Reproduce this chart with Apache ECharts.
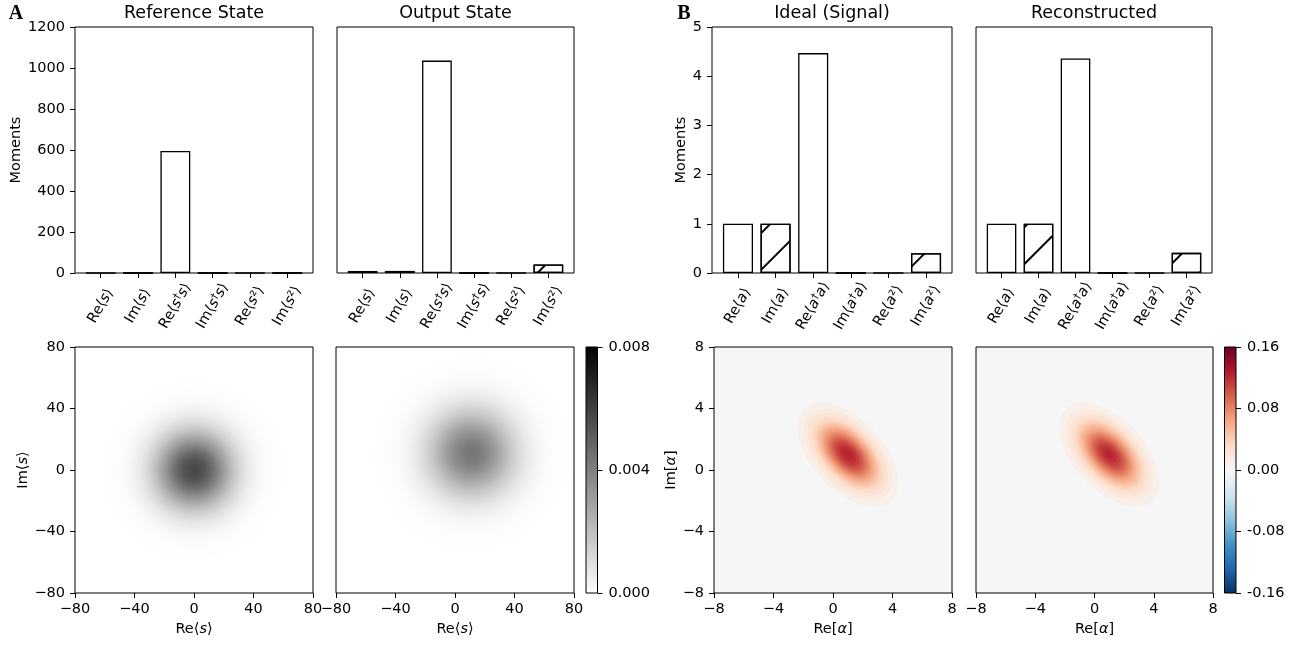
<!DOCTYPE html>
<html><head><meta charset="utf-8">
<script src="https://cdn.jsdelivr.net/npm/echarts@6/dist/echarts.min.js"></script>
<style>html,body{margin:0;padding:0;background:#fff}#c{width:1305px;height:648px}</style>
</head><body><div id="c"></div>
<script>
// ---------------- DATA ----------------
const catsA = ['Re⟨s⟩','Im⟨s⟩','Re⟨s†s⟩','Im⟨s†s⟩','Re⟨s²⟩','Im⟨s²⟩'];
const catsB = ['Re⟨a⟩','Im⟨a⟩','Re⟨a†a⟩','Im⟨a†a⟩','Re⟨a²⟩','Im⟨a²⟩'];
const referenceMoments = [0, 0, 595, 0, 0, 0];
const outputMoments    = [10, 10, 1036, 0, 0, 42];
const idealMoments     = [1.0, 1.0, 4.47, 0, 0, 0.40];
const reconMoments     = [1.0, 1.0, 4.36, 0, 0, 0.41];
const momentTicksA = [0, 200, 400, 600, 800, 1000, 1200];
const momentTicksB = [0, 1, 2, 3, 4, 5];
const phaseTicksA = [-80, -40, 0, 40, 80];
const phaseTicksB = [-8, -4, 0, 4, 8];
const cbarTicksA = [0, 0.004, 0.008];
const cbarTicksB = [-0.16, -0.08, 0, 0.08, 0.16];

// distribution contours: level value and semi-axes (data units)
const refCenter = [0, 0];
const refPeak = 0.0058;
const refLevels = [0.00001,0.00005,0.0001,0.0002,0.0004,0.0007,0.001,0.0014,0.0018,0.0022,0.0026,0.003,0.0034,0.0038,0.0042,0.0046,0.005,0.0054];
const refRadiusX = [62.4,54.0,49.9,45.4,40.5,36.0,32.8,29.5,26.8,24.4,22.2,20.1,18.1,16.1,14.1,11.9,9.5,6.6];
const refRadiusY = [62.4,54.0,49.9,45.4,40.5,36.0,32.8,29.5,26.8,24.4,22.2,20.1,18.1,16.1,14.1,11.9,9.5,6.6];

const outCenter = [11, 11];
const outPeak = 0.0043;
const outLevels = [0.00001,0.00005,0.0001,0.0002,0.0004,0.0007,0.001,0.0014,0.0018,0.0022,0.0026,0.003,0.0034,0.0038,0.0042];
const outRadiusX = [67.9,58.2,53.5,48.3,42.5,37.2,33.3,29.2,25.7,22.6,19.6,16.6,13.4,9.7,4.2];
const outRadiusY = [67.9,58.2,53.5,48.3,42.5,37.2,33.3,29.2,25.7,22.6,19.6,16.6,13.4,9.7,4.2];

const idealCenter = [1, 1];
const idealAngle = -45;
const idealPeak = 0.125;
const idealLevels = [0.0064,0.0128,0.0192,0.0256,0.032,0.0384,0.0448,0.0512,0.0576,0.064,0.0704,0.0768,0.0832,0.0896,0.096,0.1024,0.1088,0.1152,0.1216];
const idealMajor = [4.19,3.67,3.33,3.06,2.84,2.64,2.46,2.30,2.14,1.99,1.84,1.70,1.55,1.40,1.25,1.09,0.91,0.69,0.40];
const idealMinor = [2.34,2.05,1.86,1.71,1.58,1.47,1.38,1.28,1.20,1.11,1.03,0.95,0.87,0.78,0.70,0.61,0.51,0.39,0.23];

const reconCenter = [1, 1];
const reconAngle = -45;
const reconPeak = 0.123;
const reconLevels = [0.0064,0.0128,0.0192,0.0256,0.032,0.0384,0.0448,0.0512,0.0576,0.064,0.0704,0.0768,0.0832,0.0896,0.096,0.1024,0.1088,0.1152,0.1216];
const reconMajor = [4.19,3.66,3.32,3.05,2.83,2.63,2.45,2.28,2.12,1.97,1.82,1.67,1.52,1.37,1.21,1.04,0.86,0.62,0.30];
const reconMinor = [2.34,2.04,1.85,1.70,1.58,1.47,1.37,1.27,1.18,1.10,1.02,0.93,0.85,0.76,0.68,0.58,0.48,0.35,0.17];

// ---------------- STYLE / LAYOUT ----------------
const FONT = 'DejaVu Sans';
const FS = 14.5;
const greys = ['#ffffff', '#000000'];
const rdbu = ['#053061','#2166ac','#4393c3','#92c5de','#d1e5f0','#f7f7f7','#fddbc7','#f4a582','#d6604d','#b2182b','#67001f'];
const BAR_TOP = 27, BAR_H = 246, HEAT_TOP = 347, HEAT_H = 246;
const tickLine = {color: '#000', width: 1};
const richI = {
  i: {fontStyle: 'italic', fontSize: FS, fontFamily: FONT, color: '#000'},
  d: {fontSize: 10, fontFamily: FONT, color: '#000', verticalAlign: 'top', padding: [0, 0, 6, 0]}
};

const barLayout = [{l: 75, w: 238}, {l: 337, w: 237}, {l: 712, w: 240}, {l: 976, w: 236}];
const heatLayout = [{l: 75, w: 238}, {l: 336, w: 238}, {l: 714, w: 238}, {l: 976, w: 237}];
const cbLayout = [{l: 586, w: 11.5}, {l: 1224.5, w: 11.5}];

const grids = [], xAxes = [], yAxes = [], series = [];

function italicize(lab) {
  return lab.replace(/[sa]/g, m => '{i|' + m + '}').replace(/†/g, '{d|†}');
}

const hatch = {symbol: 'rect', symbolSize: 1, dashArrayX: [1, 0], dashArrayY: [1.2, 24], rotation: -Math.PI / 4, color: '#000'};

const barPanels = [
  {cats: catsA, vals: referenceMoments, ticks: momentTicksA, showY: true, nameGap: 48},
  {cats: catsA, vals: outputMoments, ticks: momentTicksA, showY: false},
  {cats: catsB, vals: idealMoments, ticks: momentTicksB, showY: true, nameGap: 22},
  {cats: catsB, vals: reconMoments, ticks: momentTicksB, showY: false}
];

barPanels.forEach((p, k) => {
  const L = barLayout[k];
  const yMin = p.ticks[0], yMax = p.ticks[p.ticks.length - 1], step = p.ticks[1] - p.ticks[0];
  let gi = grids.length;
  grids.push({left: L.l, top: BAR_TOP, width: L.w, height: BAR_H, show: true, borderColor: '#000', borderWidth: 1, backgroundColor: 'transparent'});
  xAxes.push({gridIndex: gi, type: 'value', show: false, min: 0, max: 1, axisLine: {show: false, onZero: false}});
  yAxes.push({gridIndex: gi, type: 'value', min: yMin, max: yMax, interval: step,
    axisLine: {show: false, onZero: false}, splitLine: {show: false},
    axisTick: {show: p.showY, length: 5, lineStyle: tickLine},
    axisLabel: {show: p.showY, margin: 10, fontSize: FS, fontFamily: FONT, color: '#000', formatter: v => String(v)},
    name: p.showY ? 'Moments' : '', nameLocation: 'middle', nameGap: p.nameGap || 0,
    nameTextStyle: {fontSize: FS, fontFamily: FONT, color: '#000'}});
  gi = grids.length;
  grids.push({left: L.l + L.w * 0.0298, top: BAR_TOP, width: L.w * 0.9404, height: BAR_H});
  xAxes.push({gridIndex: gi, type: 'category', data: p.cats, axisLine: {show: false, onZero: false},
    axisTick: {show: true, alignWithLabel: true, interval: 0, length: 5, lineStyle: tickLine},
    axisLabel: {interval: 0, rotate: 60, align: 'center', verticalAlign: 'middle', margin: 33,
      fontSize: FS, fontFamily: FONT, color: '#000', formatter: italicize, rich: richI}});
  yAxes.push({gridIndex: gi, type: 'value', min: yMin, max: yMax, show: false, axisLine: {show: false, onZero: false}});
  series.push({type: 'bar', xAxisIndex: gi, yAxisIndex: gi, barWidth: '80%', silent: true,
    itemStyle: {color: '#ffffff', borderColor: '#000', borderWidth: 1.3},
    data: p.vals.map((v, i) => ({value: v, itemStyle: p.cats[i].startsWith('Im') ? {decal: hatch} : {}}))});
});

// ring rows: [cx, cy, rx, ry, angle, bandValue, levelAtEdge, levelInside, insideFraction]
function ringData(center, levels, rx, ry, ang, peak) {
  return levels.map((lv, i) => {
    const last = i === levels.length - 1;
    const inner = last ? peak : levels[i + 1];
    return [center[0], center[1], rx[i], ry[i], ang, (lv + inner) / 2, lv, inner, last ? 0 : rx[i + 1] / rx[i]];
  });
}
function greyColor(v) {
  const lo = cbarTicksA[0], hi = cbarTicksA[cbarTicksA.length - 1];
  return echarts.color.lerp(Math.max(0, Math.min(1, (v - lo) / (hi - lo))), greys);
}
function makeRender(smooth) {
  return function (params, api) {
    const cx = api.value(0), cy = api.value(1), rx = api.value(2), ry = api.value(3);
    const a = api.value(4) * Math.PI / 180, ca = Math.cos(a), sa = Math.sin(a);
    const pts = [];
    for (let k = 0; k < 144; k++) {
      const t = k / 144 * Math.PI * 2, dx = rx * Math.cos(t), dy = ry * Math.sin(t);
      pts.push(api.coord([cx + dx * ca - dy * sa, cy + dx * sa + dy * ca]));
    }
    if (smooth) {
      const c0 = api.coord([cx, cy]);
      const sz = api.size([rx, ry]);
      const R = (sz[0] + sz[1]) / 2;
      const fill = new echarts.graphic.RadialGradient(c0[0], c0[1], R, [
        {offset: 0, color: greyColor(api.value(7))},
        {offset: Math.max(0.001, api.value(8)), color: greyColor(api.value(7))},
        {offset: 1, color: greyColor(api.value(6))}
      ], true);
      return {type: 'polygon', shape: {points: pts}, style: {fill: fill, stroke: null}, silent: true};
    }
    return {type: 'polygon', shape: {points: pts}, style: {fill: api.visual('color'), stroke: null}, silent: true};
  };
}

const heatPanels = [
  {ticks: phaseTicksA, smooth: true, data: ringData(refCenter, refLevels, refRadiusX, refRadiusY, 0, refPeak), showY: true, xName: 'Re⟨{i|s}⟩', yName: 'Im⟨{i|s}⟩', bg: '#ffffff', yGap: 44},
  {ticks: phaseTicksA, smooth: true, data: ringData(outCenter, outLevels, outRadiusX, outRadiusY, 0, outPeak), showY: false, xName: 'Re⟨{i|s}⟩', bg: '#ffffff'},
  {ticks: phaseTicksB, smooth: false, data: ringData(idealCenter, idealLevels, idealMajor, idealMinor, idealAngle, idealPeak), showY: true, xName: 'Re[{i|α}]', yName: 'Im[{i|α}]', bg: '#f6f6f6', yGap: 30},
  {ticks: phaseTicksB, smooth: false, data: ringData(reconCenter, reconLevels, reconMajor, reconMinor, reconAngle, reconPeak), showY: false, xName: 'Re[{i|α}]', bg: '#f6f6f6'}
];
const heatSeriesIdx = [];
const minusFmt = v => String(v).replace('-', '−');
heatPanels.forEach((p, k) => {
  const L = heatLayout[k];
  const mn = p.ticks[0], mx = p.ticks[p.ticks.length - 1], step = p.ticks[1] - p.ticks[0];
  const gi = grids.length;
  grids.push({left: L.l, top: HEAT_TOP, width: L.w, height: HEAT_H, show: true, borderColor: '#000', borderWidth: 1, backgroundColor: p.bg});
  xAxes.push({gridIndex: gi, type: 'value', min: mn, max: mx, interval: step,
    axisLine: {show: false, onZero: false}, splitLine: {show: false},
    axisTick: {show: true, length: 5, lineStyle: tickLine},
    axisLabel: {margin: 9, fontSize: FS, fontFamily: FONT, color: '#000', formatter: minusFmt},
    name: p.xName, nameLocation: 'middle', nameGap: 29,
    nameTextStyle: {fontSize: FS, fontFamily: FONT, color: '#000', rich: richI}});
  yAxes.push({gridIndex: gi, type: 'value', min: mn, max: mx, interval: step,
    axisLine: {show: false, onZero: false}, splitLine: {show: false},
    axisTick: {show: p.showY, length: 5, lineStyle: tickLine},
    axisLabel: {show: p.showY, margin: 10, fontSize: FS, fontFamily: FONT, color: '#000', formatter: minusFmt},
    name: p.showY ? p.yName : '', nameLocation: 'middle', nameGap: p.yGap || 0,
    nameTextStyle: {fontSize: FS, fontFamily: FONT, color: '#000', rich: richI}});
  heatSeriesIdx.push(series.length);
  series.push({type: 'custom', xAxisIndex: gi, yAxisIndex: gi, renderItem: makeRender(p.smooth), clip: true, silent: true,
    encode: {x: 0, y: 1}, dimensions: ['cx', 'cy', 'rx', 'ry', 'ang', 'val', 'edge', 'inner', 'frac'], data: p.data});
});

const cbDefs = [
  {ticks: cbarTicksA, fmt: v => v.toFixed(3)},
  {ticks: cbarTicksB, fmt: v => (Math.abs(v) < 1e-9 ? 0 : v).toFixed(2)}
];
cbDefs.forEach((c, k) => {
  const L = cbLayout[k];
  const gi = grids.length;
  grids.push({left: L.l, top: HEAT_TOP, width: L.w, height: HEAT_H});
  xAxes.push({gridIndex: gi, type: 'value', show: false, min: 0, max: 1, axisLine: {show: false, onZero: false}});
  yAxes.push({gridIndex: gi, type: 'value', position: 'right', min: c.ticks[0], max: c.ticks[c.ticks.length - 1],
    interval: c.ticks[1] - c.ticks[0], axisLine: {show: false, onZero: false}, splitLine: {show: false},
    axisTick: {show: true, length: 5, lineStyle: tickLine},
    axisLabel: {margin: 11, fontSize: FS, fontFamily: FONT, color: '#000', formatter: c.fmt}});
});

function gradStops(cols) { return cols.map((c, i) => ({offset: i / (cols.length - 1), color: c})); }

const txt = (x, y, text, extra) => Object.assign({type: 'text', x: x, y: y, silent: true,
  style: Object.assign({text: text, fontSize: 17.5, fontFamily: FONT, fill: '#000',
    align: 'center', verticalAlign: 'middle', textAlign: 'center', textVerticalAlign: 'middle'}, extra || {})});

const titles = ['Reference State', 'Output State', 'Ideal (Signal)', 'Reconstructed'];
const graphics = titles.map((t, k) => txt(barLayout[k].l + barLayout[k].w / 2, 13, t));
graphics.push(txt(16, 14, 'A', {fontSize: 20, fontFamily: 'Liberation Serif', fontWeight: 'bold'}));
graphics.push(txt(684, 14, 'B', {fontSize: 20, fontFamily: 'Liberation Serif', fontWeight: 'bold'}));
[greys, rdbu].forEach((cols, k) => {
  const L = cbLayout[k];
  graphics.push({type: 'rect', silent: true, z: 10,
    shape: {x: L.l, y: HEAT_TOP, width: L.w, height: HEAT_H},
    style: {fill: new echarts.graphic.LinearGradient(0, 1, 0, 0, gradStops(cols)), stroke: '#000', lineWidth: 1}});
});

const chart = echarts.init(document.getElementById('c'), null, {renderer: 'canvas'});
chart.setOption({
  animation: false,
  backgroundColor: '#ffffff',
  grid: grids, xAxis: xAxes, yAxis: yAxes, series: series,
  visualMap: [
    {type: 'continuous', show: false, seriesIndex: [heatSeriesIdx[2], heatSeriesIdx[3]], dimension: 5,
      min: cbarTicksB[0], max: cbarTicksB[cbarTicksB.length - 1], inRange: {color: rdbu}}
  ],
  graphic: graphics
});
</script></body></html>
